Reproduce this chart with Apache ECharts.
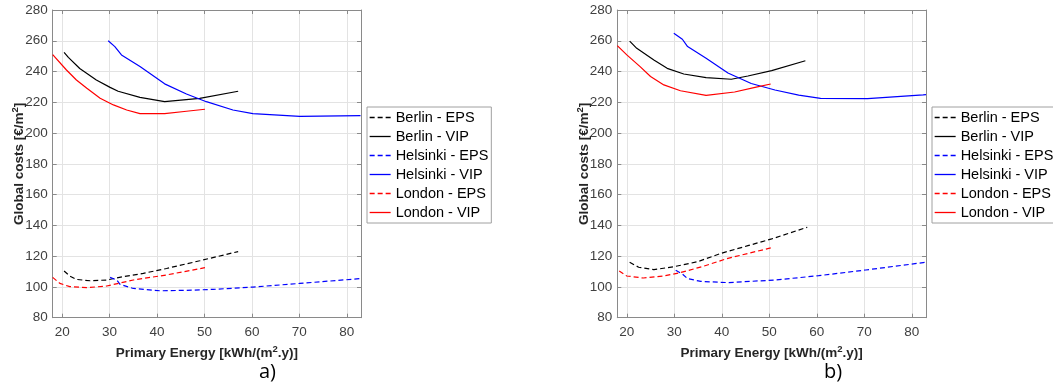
<!DOCTYPE html>
<html>
<head>
<meta charset="utf-8">
<script src="https://cdn.jsdelivr.net/npm/echarts@6/dist/echarts.min.js"></script>
<style>
html,body{margin:0;padding:0;background:#fff;}
#chart{width:1053px;height:387px;}
</style>
</head>
<body>
<div id="chart"></div>
<script>
// ---- Data: [Primary Energy, Global costs] ----
// Panel a)
const aBerlinEPS = [[20.4,110.4],[21.6,107.1],[23,104.9],[25.9,104.0],[29.4,104.5],[32.9,106.7],[37.1,108.8],[42,112.0],[49,117.0],[57.1,123.0]];
const aBerlinVIP = [[20.4,252.5],[21.3,249.2],[23.7,242.0],[27.2,234.5],[30.1,229.7],[31.8,227.2],[36.4,223.2],[41.6,220.4],[49,222.6],[57.1,227.2]];
const aHelsinkiEPS = [[30.1,106.2],[31.5,104.5],[32.2,101.7],[35,99.0],[40.6,97.5],[46.2,97.8],[51.8,98.4],[60.2,99.9],[70.1,102.3],[82.9,105.4]];
const aHelsinkiVIP = [[29.7,260.0],[31.1,256.2],[32.5,250.8],[36.4,243.2],[41.6,232.0],[46.2,225.4],[50.4,220.4],[56,215.0],[60.2,212.6],[70.1,210.9],[82.9,211.3]];
const aLondonEPS = [[18,106.2],[19.5,102.3],[21.6,100.2],[25.2,99.5],[29.4,100.6],[35,104.5],[42,107.8],[50.1,112.5]];
const aLondonVIP = [[18,251.0],[20.9,241.0],[23,234.5],[25.2,229.1],[28,222.6],[30.8,218.3],[33.6,215.0],[36.4,212.6],[41.6,212.6],[46.2,214.2],[50.1,215.5]];
// Panel b)
const bBerlinEPS = [[20.6,116.0],[22.5,112.8],[25.7,111.2],[30,113.2],[34.9,116.4],[39.9,121.9],[45.5,126.8],[50.5,131.2],[58,138.8]];
const bBerlinVIP = [[20.6,259.8],[22.1,255.1],[25.7,247.5],[28.5,242.1],[32,238.4],[36.7,236.0],[42,235.0],[45.5,237.1],[50.5,240.6],[57.6,247.0]];
const bHelsinkiEPS = [[30.3,110.8],[31.7,108.4],[32.8,105.4],[35.6,103.6],[41.3,102.8],[51.2,104.5],[60.4,107.3],[70.3,111.0],[82.4,115.8],[83,116.0]];
const bHelsinkiVIP = [[29.9,264.9],[31.7,261.0],[32.8,256.2],[36.7,248.6],[41.3,239.1],[46.2,232.2],[51.2,228.0],[56.2,224.7],[60.8,222.6],[70.7,222.4],[82.4,224.8],[83,225.0]];
const bLondonEPS = [[18.4,110.4],[20,107.1],[23.5,105.8],[27.8,107.1],[31.3,109.3],[36.3,113.6],[41.3,118.6],[50.5,125.5]];
const bLondonVIP = [[18,256.8],[20,250.8],[22.8,243.2],[25,236.8],[27.8,231.3],[31.3,227.5],[36.7,224.5],[42.7,226.7],[47,229.7],[50.3,231.9]];

const seriesNames = ['Berlin - EPS','Berlin - VIP','Helsinki - EPS','Helsinki - VIP','London - EPS','London - VIP'];
const seriesColors = ['#000000','#000000','#0000ff','#0000ff','#ff0000','#ff0000'];
const seriesDashed = [true,false,true,false,true,false];
const panelA = [aBerlinEPS,aBerlinVIP,aHelsinkiEPS,aHelsinkiVIP,aLondonEPS,aLondonVIP];
const panelB = [bBerlinEPS,bBerlinVIP,bHelsinkiEPS,bHelsinkiVIP,bLondonEPS,bLondonVIP];
const xMin = 18, xMax = 83, yMin = 80, yMax = 280, yStep = 20;

const chart = echarts.init(document.getElementById('chart'), null, {renderer:'canvas'});
const axisCol = '#8a8a8a';
const labCol = '#404040';
const gridCol = '#e3e3e3';

function xAx(grid, pos, main){
  return {
    type:'value', gridIndex:grid, position:pos, min:xMin, max:xMax, splitNumber:6,
    axisLine:{show:true, onZero:false, lineStyle:{color:axisCol, width:1}},
    axisTick:{show:true, inside:true, length:4, lineStyle:{color:axisCol}},
    axisLabel:{show:main, color:labCol, fontSize:13.5, fontFamily:'Liberation Sans', margin:8, showMinLabel:false, showMaxLabel:false},
    splitLine:{show:main, lineStyle:{color:gridCol, width:1}},
    name: main ? '{b|Primary Energy [kWh/(m}{s|2}{b|.y)]}' : '',
    nameLocation:'middle', nameGap:22,
    nameTextStyle:{rich:{
      b:{fontWeight:'bold', fontSize:13.5, color:'#262626', fontFamily:'Liberation Sans', verticalAlign:'bottom'},
      s:{fontWeight:'bold', fontSize:9.5, color:'#262626', fontFamily:'Liberation Sans', verticalAlign:'bottom', padding:[0,0,6,0]}
    }}
  };
}
function yAx(grid, pos, main){
  return {
    type:'value', gridIndex:grid, position:pos, min:yMin, max:yMax, interval:yStep,
    axisLine:{show:true, onZero:false, lineStyle:{color:axisCol, width:1}},
    axisTick:{show:true, inside:true, length:4, lineStyle:{color:axisCol}},
    axisLabel:{show:main, color:labCol, fontSize:13.5, fontFamily:'Liberation Sans', margin:5},
    splitLine:{show:main, lineStyle:{color:gridCol, width:1}},
    name: main ? '{b|Global costs [€/m}{s|2}{b|]}' : '',
    nameLocation:'middle', nameGap:26, nameMoveOverlap:false,
    nameTextStyle:{rich:{
      b:{fontWeight:'bold', fontSize:13.5, color:'#262626', fontFamily:'Liberation Sans', verticalAlign:'bottom'},
      s:{fontWeight:'bold', fontSize:9.5, color:'#262626', fontFamily:'Liberation Sans', verticalAlign:'bottom', padding:[0,0,6,0]}
    }}
  };
}

const series = [];
[panelA, panelB].forEach((panel, gi) => {
  panel.forEach((data, i) => {
    series.push({
      type:'line', name:seriesNames[i], xAxisIndex:gi, yAxisIndex:gi,
      data:data, symbol:'none', smooth:false, animation:false,
      lineStyle:{color:seriesColors[i], width:1.2, type: seriesDashed[i] ? [5,3] : 'solid'},
      itemStyle:{color:seriesColors[i]}
    });
  });
});

function legendAt(left){
  return {
    orient:'vertical', left:left, top:107,
    data:seriesNames,
    itemWidth:21, itemHeight:14, itemGap:4.0,
    padding:[3,3,3,2],
    backgroundColor:'#ffffff', borderColor:'#a0a0a0', borderWidth:1, borderRadius:0,
    textStyle:{color:'#000', fontSize:14.5, fontFamily:'Liberation Sans'},
    itemStyle:{color:'rgba(0,0,0,0)', borderColor:'rgba(0,0,0,0)', borderWidth:0, opacity:0},
    lineStyle:{width:1.3},
    selectedMode:false
  };
}

chart.setOption({
  animation:false,
  backgroundColor:'#ffffff',
  grid:[
    {left:52.7, top:10, width:308.3, height:307.7, containLabel:false},
    {left:617.3, top:10, width:308.7, height:307.7, containLabel:false}
  ],
  xAxis:[xAx(0,'bottom',true), xAx(1,'bottom',true), xAx(0,'top',false), xAx(1,'top',false)],
  yAxis:[yAx(0,'left',true), yAx(1,'left',true), yAx(0,'right',false), yAx(1,'right',false)],
  legend:[legendAt(367), legendAt(932)],
  series:series,
  graphic:[
    {type:'text', left:259, top:362, style:{text:'a)', font:'20px "Open Sans"', fill:'#000'}},
    {type:'text', left:824, top:362, style:{text:'b)', font:'20px "Open Sans"', fill:'#000'}}
  ]
});
</script>
</body>
</html>
